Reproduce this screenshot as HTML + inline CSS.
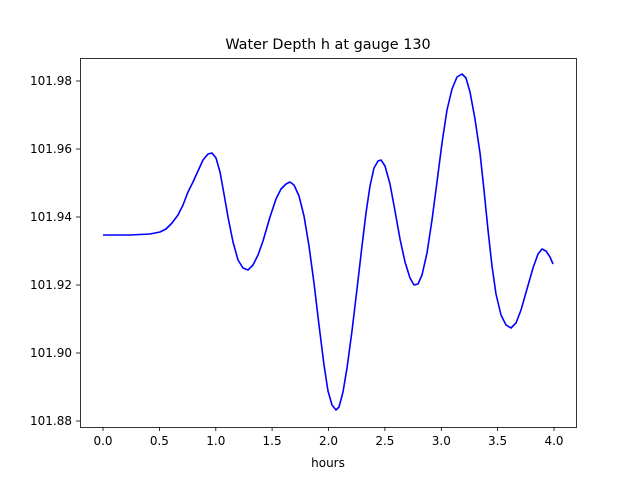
<!DOCTYPE html>
<html><head><meta charset="utf-8"><style>
body{margin:0;background:#fff;}
svg{display:block;font-family:"DejaVu Sans","Liberation Sans",sans-serif;}
</style></head><body>
<svg width="640" height="480" viewBox="0 0 640 480" xmlns="http://www.w3.org/2000/svg">
<rect width="640" height="480" fill="#fff"/>
<text x="328" y="49" font-size="14.4" text-anchor="middle">Water Depth h at gauge 130</text>
<polyline fill="none" stroke="#0000ff" stroke-width="1.6" stroke-linejoin="round" points="103,235 130,235 150,234 160,232 166,229 172,223 178,215 183,205 188,192 193,182 198,171 203,160 208,154 212,153 216,158 220,172 224,194 228,217 233,242 238,260 243,268 248,270 253,265 258,255 263,241 270,217 276,199 281,189 286,184 290,182 294,185 299,196 304,216 309,246 314,283 319,325 324,365 328,391 332,405 336,410 339,407 343,392 347,368 352,331 357,289 362,246 366,213 370,186 374,168 378,161 381,160 385,166 390,184 395,211 400,239 405,262 410,278 414,285 418,284 422,275 427,253 432,220 437,182 442,143 447,110 452,89 457,77 462,74 466,78 470,92 475,119 480,153 484,190 488,230 492,266 496,294 501,315 506,325 511,328 516,323 521,310 527,289 533,268 538,254 542,249 546,251 550,257 553,264"/>
<rect x="80.5" y="58.5" width="496" height="369" fill="none" stroke="#000" stroke-width="0.8"/>
<g stroke="#000" stroke-width="0.8">
<line x1="103" y1="427" x2="103" y2="431"/><line x1="159.4" y1="427" x2="159.4" y2="431"/><line x1="215.8" y1="427" x2="215.8" y2="431"/><line x1="272.1" y1="427" x2="272.1" y2="431"/><line x1="328.5" y1="427" x2="328.5" y2="431"/><line x1="384.9" y1="427" x2="384.9" y2="431"/><line x1="441.3" y1="427" x2="441.3" y2="431"/><line x1="497.6" y1="427" x2="497.6" y2="431"/><line x1="554" y1="427" x2="554" y2="431"/>
<line x1="76" y1="81" x2="80" y2="81"/><line x1="76" y1="149" x2="80" y2="149"/><line x1="76" y1="217" x2="80" y2="217"/><line x1="76" y1="285" x2="80" y2="285"/><line x1="76" y1="353" x2="80" y2="353"/><line x1="76" y1="421" x2="80" y2="421"/>
</g>
<g font-size="12" text-anchor="middle">
<text x="103" y="445">0.0</text><text x="159.4" y="445">0.5</text><text x="215.8" y="445">1.0</text><text x="272.1" y="445">1.5</text><text x="328.5" y="445">2.0</text><text x="384.9" y="445">2.5</text><text x="441.3" y="445">3.0</text><text x="497.6" y="445">3.5</text><text x="554" y="445">4.0</text>
<text x="328" y="467">hours</text>
</g>
<g font-size="12" text-anchor="end">
<text x="72" y="85">101.98</text><text x="72" y="153">101.96</text><text x="72" y="221">101.94</text><text x="72" y="289">101.92</text><text x="72" y="357">101.90</text><text x="72" y="425">101.88</text>
</g>
</svg>
</body></html>
